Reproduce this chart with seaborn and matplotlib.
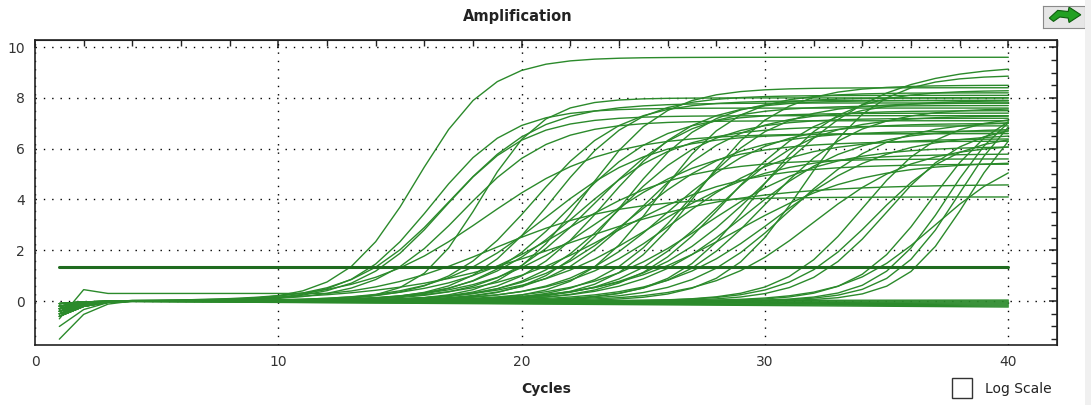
import numpy as np
import pandas as pd
import matplotlib
matplotlib.use("Agg")
import matplotlib.pyplot as plt
import seaborn as sns
from matplotlib.patches import Rectangle, Polygon
from matplotlib.ticker import MultipleLocator

# =====================================================
# DATA
# each curve: midpoint cycle, steepness, plateau, baseline drift, cycle-1 value
# =====================================================

cycles = np.arange(1, 41)

# early risers + two slow ones
early_mid = [15.7, 16.3, 16.8, 17.0, 17.6, 18.3, 18.5, 18.8, 22.0]
early_k = [1.5, 1.6, 1.7, 1.9, 1.8, 1.25, 2.5, 2.6, 3.5]
early_plateau = [9.6, 7.6, 7.3, 7.8, 7.1, 8.0, 6.6, 4.1, 4.6]

# main bulk of samples
main_mid = [20.5, 21.0, 21.3, 21.8, 22.0, 22.3, 22.6, 23.0, 23.2, 23.5,
            23.8, 24.0, 24.3, 24.6, 25.0, 25.3, 25.6, 26.0, 26.4, 26.8,
            27.2, 27.6, 28.0, 28.4, 28.8, 29.2, 29.6, 30.0, 30.5, 31.0,
            31.5, 32.0, 30.0]
main_k = [1.8, 2.2, 1.7, 2.5, 1.9, 2.1, 1.6, 2.0, 2.4, 1.8,
          2.6, 1.9, 1.7, 2.2, 2.0, 2.5, 1.6, 2.1, 2.3, 1.8,
          1.7, 2.4, 2.0, 1.9, 2.6, 2.2, 1.7, 1.9, 2.3, 2.0,
          1.6, 2.1, 2.5]
main_plateau = [7.9, 6.6, 8.1, 5.6, 7.4, 6.9, 8.4, 7.7, 6.3, 7.9,
                5.4, 7.2, 8.0, 6.7, 7.5, 5.8, 8.2, 7.0, 6.4, 7.8,
                8.5, 6.1, 7.3, 7.9, 5.5, 6.8, 8.3, 7.6, 6.6, 7.1,
                8.9, 6.2, 9.3]

# late risers
late_mid = [34.0, 34.5, 35.0, 36.8, 37.5, 38.0, 38.3, 37.0]
late_k = [1.6, 1.7, 1.6, 1.5, 1.4, 1.4, 1.3, 1.8]
late_plateau = [7.3, 6.6, 7.0, 7.9, 8.2, 8.5, 8.0, 6.0]

# non-amplifying wells (flat, slight drift)
flat_drift = [-0.006, -0.005, -0.003, -0.002, 0.0, 0.001, -0.004, -0.001]

start_values = [-0.3, -0.5, -0.2, -0.4, -0.1, -0.6, -0.3, -0.7, -1.0,
                -0.2, -0.4, -0.1, -0.5, -0.3, -0.2, -0.6, -0.4, -0.1, -0.3,
                -0.5, -0.2, -0.4, -0.3, -0.1, -0.6, -0.2, -0.5, -0.3, -0.4,
                -0.2, -0.1, -0.5, -0.3, -0.4, -0.2, -0.6, -0.1, -0.3, -0.5,
                -0.2, -0.4, -1.5,
                -0.3, -0.2, -0.5, -0.4, -0.1, -0.3, -0.6, -0.2,
                -0.4, -0.3, -0.5, -0.2, -0.6, -0.1, -0.3, -0.4]

odd_second_cycle = {7: 0.45}   # the one curve that jumps up at cycle 2
odd_floor = 0.3                # and then hangs around this level until it rises

threshold = 1.35


# =====================================================
# BUILD LONG TABLE
# =====================================================

def build_curves():
    mids = early_mid + main_mid + late_mid + [60.0] * len(flat_drift)
    ks = early_k + main_k + late_k + [1.0] * len(flat_drift)
    plats = early_plateau + main_plateau + late_plateau + [0.0] * len(flat_drift)
    drifts = [0.0] * (len(mids) - len(flat_drift)) + flat_drift

    rows = []
    for i, (m, k, p, d) in enumerate(zip(mids, ks, plats, drifts)):
        y = p / (1 + np.exp(-(cycles - m) / k)) + d * (cycles - 1)
        s = start_values[i]
        y[0] = s
        y[1] += 0.35 * s
        y[2] += 0.08 * s
        if i in odd_second_cycle:
            y[1] = odd_second_cycle[i]
            y[2:] = np.maximum(y[2:], odd_floor)
        for c, v in zip(cycles, y):
            rows.append({"well": i, "cycle": c, "rfu": v})
    return pd.DataFrame(rows)


# =====================================================
# PLOT
# =====================================================

def main():
    sns.set_style("white")
    plt.rcParams["font.family"] = ["DejaVu Sans"]

    df = build_curves()

    fig = plt.figure(figsize=(10.91, 4.05), dpi=100)
    ax = fig.add_axes([35 / 1091, 60 / 405, 1022 / 1091, 305 / 405])

    sns.lineplot(data=df, x="cycle", y="rfu", units="well", estimator=None,
                 color="#2b8a2b", linewidth=1.0, ax=ax, legend=False)

    ax.plot([1, 40], [threshold, threshold], color="#1f6b1f", linewidth=2.2)

    ax.set_xlim(0, 42)
    ax.set_ylim(-1.73, 10.28)

    ax.xaxis.set_major_locator(MultipleLocator(10))
    ax.xaxis.set_minor_locator(MultipleLocator(2))
    ax.yaxis.set_major_locator(MultipleLocator(2))
    ax.yaxis.set_minor_locator(MultipleLocator(0.5))

    ax.grid(True, which="major", color="black", linestyle=(0, (1, 5)), linewidth=1.0)
    ax.set_axisbelow(True)

    for side in ["left", "bottom", "top", "right"]:
        ax.spines[side].set_color("#222222")
        ax.spines[side].set_linewidth(1.2)

    # left / bottom: ticks crossing the spine
    ax.tick_params(axis="both", which="major", direction="inout", length=9,
                   width=1.1, colors="#222222", labelsize=10, pad=3)
    ax.tick_params(axis="both", which="minor", direction="inout", length=6,
                   width=1.0, colors="#222222")
    ax.tick_params(axis="both", which="both", labelcolor="#333333")

    # top / right: inward ticks only
    top = ax.secondary_xaxis("top")
    top.xaxis.set_major_locator(MultipleLocator(10))
    top.xaxis.set_minor_locator(MultipleLocator(2))
    top.tick_params(which="major", direction="in", length=6, width=1.1,
                    colors="#222222", labeltop=False)
    top.tick_params(which="minor", direction="in", length=4, width=1.0, colors="#222222")
    right = ax.secondary_yaxis("right")
    right.yaxis.set_major_locator(MultipleLocator(2))
    right.yaxis.set_minor_locator(MultipleLocator(0.5))
    right.tick_params(which="major", direction="in", length=6, width=1.1,
                      colors="#222222", labelright=False)
    right.tick_params(which="minor", direction="in", length=4, width=1.0, colors="#222222")

    ax.set_xlabel("Cycles", fontsize=10, fontweight="bold", color="#222222", labelpad=9)
    ax.set_ylabel("")

    fig.text(518 / 1091, 1 - 17 / 405, "Amplification", ha="center", va="center",
             fontsize=10.5, fontweight="bold", color="#222222")

    # log scale checkbox
    fig.patches.append(Rectangle((952 / 1091, 1 - 398 / 405), 20 / 1091, 20 / 405,
                                 transform=fig.transFigure, facecolor="white",
                                 edgecolor="#333333", linewidth=1.0))
    fig.text(985 / 1091, 1 - 389 / 405, "Log Scale", ha="left", va="center",
             fontsize=10, color="#222222")

    # little toolbar icon top right
    icon = fig.add_axes([1043 / 1091, 1 - 28 / 405, 42 / 1091, 22 / 405])
    icon.set_xlim(0, 1)
    icon.set_ylim(0, 1)
    icon.set_facecolor("#e6e6e6")
    for s in icon.spines.values():
        s.set_color("#8a8a8a")
    icon.set_xticks([])
    icon.set_yticks([])
    icon.add_patch(Polygon([[0.15, 0.45], [0.35, 0.8], [0.6, 0.75], [0.62, 0.95],
                            [0.9, 0.6], [0.62, 0.25], [0.6, 0.45], [0.4, 0.5], [0.25, 0.3]],
                           closed=True, facecolor="#22a022", edgecolor="#0e5e0e", linewidth=0.8))

    # window edge on the far right
    fig.patches.append(Rectangle((1085 / 1091, 0), 6 / 1091, 1, transform=fig.transFigure,
                                 facecolor="#f0f0f0", edgecolor="none"))

    fig.savefig("out.png", dpi=100)


if __name__ == "__main__":
    main()
